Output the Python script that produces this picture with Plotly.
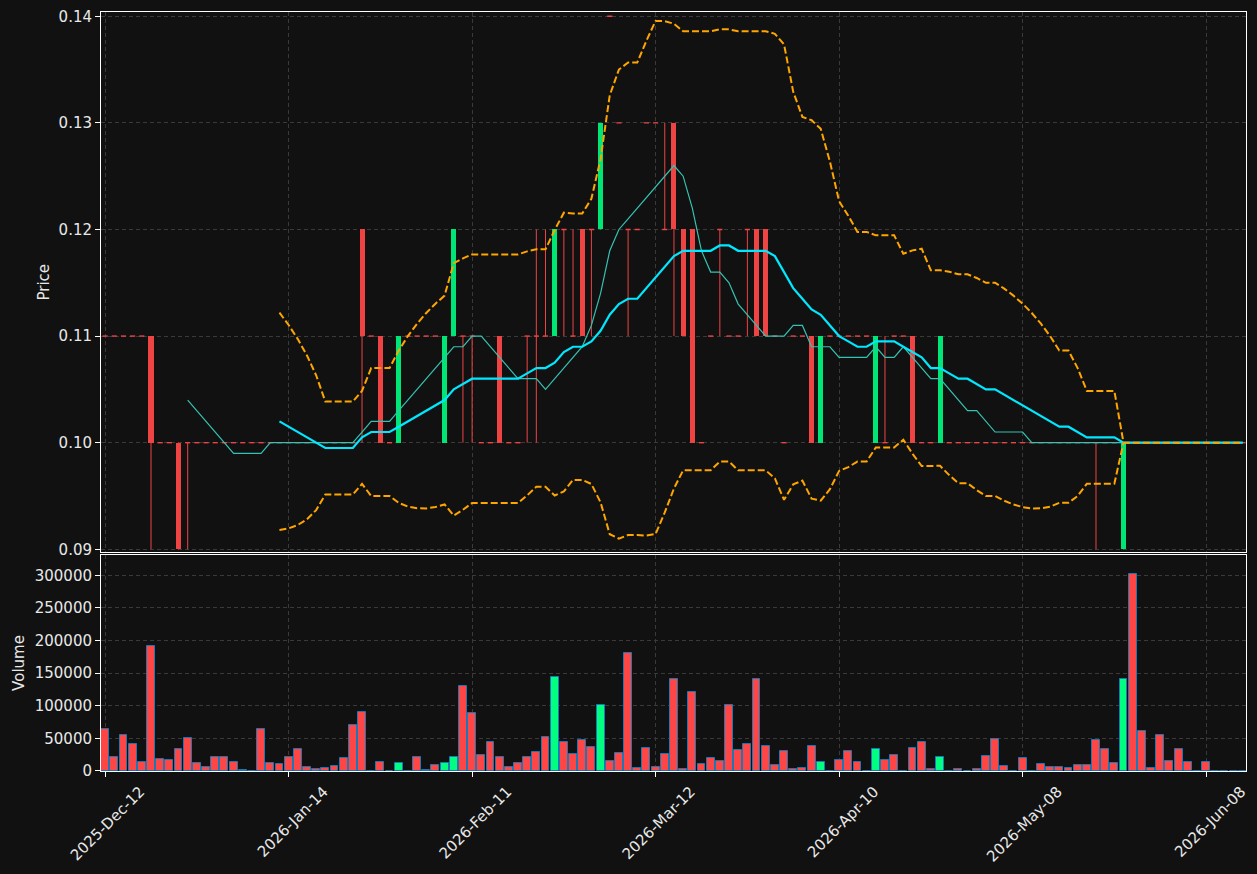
import numpy as np
import pandas as pd
import plotly.graph_objects as go

# ---------------- data (index = trading day) ----------------
open_ = [
    .11, .11, .11, .11, .11, .11, .10, .10, .10, .10,
    .10, .10, .10, .10, .10, .10, .10, .10, .10, .10,
    .10, .10, .10, .10, .10, .10, .10, .10, .12, .11,
    .11, .10, .10, .11, .11, .11, .11, .10, .11, .11,
    .11, .10, .10, .11, .10, .10, .11, .11, .11, .11,
    .12, .11, .12, .12, .12, .14, .13, .12, .12, .13,
    .13, .12, .13, .12, .12, .10, .11, .12, .11, .11,
    .12, .12, .12, .11, .10, .11, .11, .11, .10, .11,
    .11, .11, .11, .11, .10, .10, .11, .11, .11, .10,
    .10, .10, .10, .10, .10, .10, .10, .10, .10, .10,
    .10, .10, .10, .10, .10, .10, .10, .10, .10, .10,
    .10, .09, .10, .10, .10, .10, .10, .10, .10, .10,
    .10, .10, .10, .10, .10,
]
high = [
    .11, .11, .11, .11, .11, .11, .10, .10, .10, .10,
    .10, .10, .10, .10, .10, .10, .10, .10, .10, .10,
    .10, .10, .10, .10, .10, .10, .10, .10, .12, .11,
    .11, .10, .11, .11, .11, .11, .11, .11, .12, .11,
    .11, .10, .10, .11, .10, .10, .11, .12, .12, .12,
    .12, .12, .12, .12, .13, .14, .13, .12, .12, .13,
    .13, .13, .13, .12, .12, .10, .11, .12, .11, .11,
    .12, .12, .12, .11, .10, .11, .11, .11, .11, .11,
    .11, .11, .11, .11, .11, .11, .11, .11, .11, .10,
    .10, .11, .10, .10, .10, .10, .10, .10, .10, .10,
    .10, .10, .10, .10, .10, .10, .10, .10, .10, .10,
    .10, .10, .10, .10, .10, .10, .10, .10, .10, .10,
    .10, .10, .10, .10, .10,
]
low = [
    .11, .11, .11, .11, .11, .09, .10, .10, .09, .09,
    .10, .10, .10, .10, .10, .10, .10, .10, .10, .10,
    .10, .10, .10, .10, .10, .10, .10, .10, .10, .11,
    .10, .10, .10, .11, .11, .11, .11, .10, .11, .10,
    .10, .10, .10, .10, .10, .10, .10, .10, .11, .11,
    .11, .11, .11, .11, .12, .14, .13, .11, .12, .13,
    .13, .12, .11, .11, .10, .10, .11, .11, .11, .11,
    .11, .11, .11, .11, .10, .11, .11, .10, .10, .11,
    .11, .11, .11, .11, .10, .10, .11, .11, .10, .10,
    .10, .10, .10, .10, .10, .10, .10, .10, .10, .10,
    .10, .10, .10, .10, .10, .10, .10, .10, .09, .10,
    .10, .09, .10, .10, .10, .10, .10, .10, .10, .10,
    .10, .10, .10, .10, .10,
]
close = [
    .11, .11, .11, .11, .11, .10, .10, .10, .09, .10,
    .10, .10, .10, .10, .10, .10, .10, .10, .10, .10,
    .10, .10, .10, .10, .10, .10, .10, .10, .11, .11,
    .10, .10, .11, .11, .11, .11, .11, .11, .12, .11,
    .11, .10, .10, .10, .10, .10, .11, .11, .11, .12,
    .12, .11, .11, .12, .13, .14, .13, .12, .12, .13,
    .13, .12, .12, .11, .10, .10, .11, .12, .11, .11,
    .12, .11, .11, .11, .10, .11, .11, .10, .11, .11,
    .11, .11, .11, .11, .11, .10, .11, .11, .10, .10,
    .10, .11, .10, .10, .10, .10, .10, .10, .10, .10,
    .10, .10, .10, .10, .10, .10, .10, .10, .10, .10,
    .10, .10, .10, .10, .10, .10, .10, .10, .10, .10,
    .10, .10, .10, .10, .10,
]
volume = [
    64000, 22000, 55000, 41000, 13300, 191000, 17900, 16400, 33200, 51100,
    11800, 6600, 22000, 21000, 13300, 2000, 0, 64000, 11800, 10200,
    21000, 34200, 5600, 2500, 4000, 7200, 19400, 70000, 90000, 0,
    13300, 0, 11800, 0, 22000, 1500, 8700, 11800, 22000, 130000,
    88400, 24000, 44000, 21000, 5600, 11800, 21000, 28600, 51600, 143600,
    44000, 25500, 47000, 36300, 100700, 14800, 27000, 180400, 4000, 34700,
    5600, 25500, 140500, 2500, 120600, 10200, 19400, 14800, 100700, 31700,
    40900, 140500, 37800, 8700, 30100, 2500, 4000, 37800, 13300, 500,
    16400, 30100, 13300, 500, 33200, 16400, 24000, 0, 34700, 44000,
    2500, 21000, 0, 2500, 500, 2500, 22500, 49000, 7200, 500,
    19400, 0, 10200, 5600, 5600, 4000, 8700, 8700, 47000, 33200,
    11800, 140500, 301500, 60800, 4000, 54700, 14800, 33200, 13300, 500,
    13300, 0, 0, 0, 0,
]
tick_pos = [0, 20, 40, 60, 80, 100, 120]
tick_labels = ["2025-Dec-12", "2026-Jan-14", "2026-Feb-11", "2026-Mar-12",
               "2026-Apr-10", "2026-May-08", "2026-Jun-08"]
price_ticks = [0.09, 0.10, 0.11, 0.12, 0.13, 0.14]
vol_ticks = [0, 50000, 100000, 150000, 200000, 250000, 300000]

# ---------------- styling ----------------
BG = "#111111"
GRID = "#3a3a3a"
TXT = "#e8e8e8"
UP_C = "#00e676"
DN_C = "#ef4444"
VUP_C = "#00ff80"
VDN_C = "#ff4646"
BODY_W = 0.55
DOJI_HALF = 0.28
FS = 15

o = np.array(open_); h = np.array(high); l = np.array(low); c = np.array(close)
v = np.array(volume)
n = len(c)
xi = np.arange(n)
up = c > o
doji = np.isclose(o, c)

s = pd.Series(c)
sma10 = s.rolling(10).mean()
sma20 = s.rolling(20).mean()
std20 = s.rolling(20).std(ddof=0)
bb_up = sma20 + 2 * std20
bb_lo = sma20 - 2 * std20
# where the bands have collapsed onto each other, draw only one dashed line
spread = (std20 > 1e-9) | (std20.shift(1) > 1e-9)
bb_lo_draw = bb_lo.where(spread)

fig = go.Figure()

# wicks
def wick_xy(mask):
    X, Y = [], []
    for i in np.where(mask)[0]:
        X += [int(i), int(i), None]
        Y += [float(l[i]), float(h[i]), None]
    return X, Y

for mask, col in [(up & (h > l), UP_C), ((~up) & (h > l), DN_C)]:
    X, Y = wick_xy(mask)
    fig.add_trace(go.Scatter(x=X, y=Y, mode="lines", line=dict(color=col, width=1),
                             hoverinfo="skip", xaxis="x", yaxis="y"))

# bodies (non-doji)
bm = ~doji
fig.add_trace(go.Bar(
    x=xi[bm], base=np.minimum(o, c)[bm], y=np.abs(c - o)[bm], width=BODY_W,
    marker=dict(color=[UP_C if u else DN_C for u in up[bm]], line=dict(width=0)),
    xaxis="x", yaxis="y", hoverinfo="skip"))

# doji bodies
DX, DY = [], []
for i in np.where(doji)[0]:
    DX += [i - DOJI_HALF, i + DOJI_HALF, None]
    DY += [float(c[i]), float(c[i]), None]
fig.add_trace(go.Scatter(x=DX, y=DY, mode="lines", line=dict(color=DN_C, width=1.4),
                         hoverinfo="skip", xaxis="x", yaxis="y"))

# indicator lines
fig.add_trace(go.Scatter(x=xi, y=sma10, mode="lines", line=dict(color="#35c2b2", width=1.2),
                         xaxis="x", yaxis="y", name="SMA10"))
fig.add_trace(go.Scatter(x=xi, y=sma20, mode="lines", line=dict(color="#00e8ff", width=2.2),
                         xaxis="x", yaxis="y", name="SMA20"))
for band in (bb_lo_draw, bb_up):
    fig.add_trace(go.Scatter(x=xi, y=band, mode="lines",
                             line=dict(color="#ffa500", width=2, dash="7px,3px"),
                             xaxis="x", yaxis="y"))

# volume
fig.add_trace(go.Bar(
    x=xi, y=v, width=0.86,
    marker=dict(color=[VUP_C if u else VDN_C for u in up], line=dict(color="#1f77b4", width=1)),
    xaxis="x2", yaxis="y2", name="Volume"))

XR = [-0.45, 124.35]
common_x = dict(range=XR, tickmode="array", tickvals=tick_pos, showgrid=True,
                gridcolor=GRID, griddash="4px,3px", gridwidth=1, zeroline=False,
                showline=True, mirror=True, linecolor="white", linewidth=1,
                automargin=False)
common_y = dict(showgrid=True, gridcolor=GRID, griddash="4px,3px", gridwidth=1, zeroline=False,
                showline=True, mirror=True, linecolor="white", linewidth=1,
                ticks="outside", ticklen=5, tickcolor="white", automargin=False,
                tickfont=dict(size=FS, color=TXT))

fig.update_layout(
    width=1257, height=874,
    paper_bgcolor=BG, plot_bgcolor=BG,
    margin=dict(l=101, r=11, t=12, b=103, autoexpand=False),
    showlegend=False,
    font=dict(family="DejaVu Sans", size=FS, color=TXT),
    bargap=0,
    xaxis=dict(domain=[0, 1], anchor="y", showticklabels=False, ticks="", **common_x),
    xaxis2=dict(domain=[0, 1], anchor="y2", ticktext=tick_labels, tickangle=-45,
                ticks="outside", ticklen=5, tickcolor="white", ticklabelshift=35,
                tickfont=dict(size=FS, color=TXT), **common_x),
    yaxis=dict(domain=[0.2879, 1], anchor="x", range=[0.0897, 0.1404],
               tickmode="array", tickvals=price_ticks, tickformat=".2f",
               title=dict(text="Price", font=dict(size=FS, color=TXT), standoff=5),
               **common_y),
    yaxis2=dict(domain=[0, 0.2846], anchor="x2", range=[0, 331100],
                tickmode="array", tickvals=vol_ticks, ticktext=[str(t) for t in vol_ticks],
                title=dict(text="Volume", font=dict(size=FS, color=TXT), standoff=6),
                **common_y),
)

fig.write_html("out.html")
